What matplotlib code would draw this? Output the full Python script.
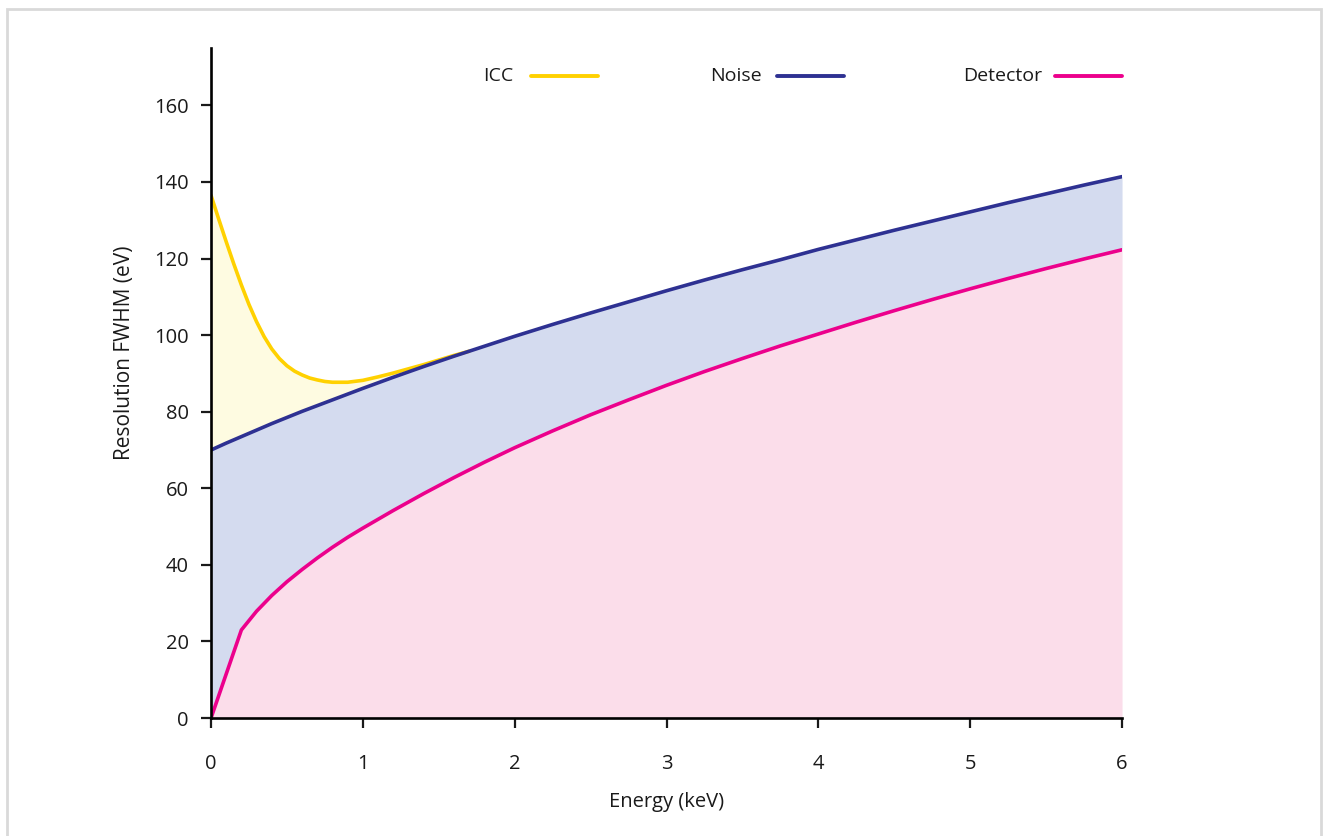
import matplotlib
matplotlib.use("Agg")
import matplotlib.pyplot as plt
import matplotlib.patches as patches
import numpy as np

plt.rcParams['font.family'] = ['Open Sans', 'DejaVu Sans']

# energy grid (keV) shared by noise and detector
energy = [0, 0.1, 0.2, 0.3, 0.4, 0.5, 0.6, 0.7, 0.8, 0.9, 1.0, 1.2, 1.4, 1.6,
          1.8, 2.0, 2.25, 2.5, 2.75, 3.0, 3.25, 3.5, 3.75, 4.0, 4.25, 4.5,
          4.75, 5.0, 5.25, 5.5, 5.75, 6.0]
noise = [70.0, 71.8, 73.5, 75.2, 76.9, 78.5, 80.1, 81.6, 83.1, 84.6, 86.1, 89.0,
         91.8, 94.5, 97.1, 99.7, 102.8, 105.8, 108.7, 111.6, 114.4, 117.1, 119.7,
         122.4, 124.9, 127.4, 129.8, 132.2, 134.6, 136.9, 139.2, 141.4]
detector = [0, 11.5, 23.0, 27.9, 32.0, 35.6, 38.8, 41.8, 44.6, 47.2, 49.6, 54.2,
            58.6, 62.8, 66.8, 70.6, 75.0, 79.2, 83.1, 86.9, 90.5, 93.9, 97.2,
            100.3, 103.4, 106.4, 109.3, 112.1, 114.8, 117.4, 119.9, 122.3]

# ICC curve only until it joins the noise curve
icc_energy = [0, 0.05, 0.1, 0.15, 0.2, 0.25, 0.3, 0.35, 0.4, 0.45, 0.5, 0.55, 0.6,
              0.65, 0.7, 0.75, 0.8, 0.9, 1.0, 1.1, 1.2, 1.3, 1.4, 1.5, 1.6, 1.7]
icc = [136.5, 130.4, 124.4, 118.6, 113.1, 108.0, 103.5, 99.6, 96.4, 93.9, 92.0,
       90.6, 89.6, 88.8, 88.3, 87.9, 87.7, 87.7, 88.2, 89.1, 90.1, 91.2, 92.3,
       93.5, 94.7, 95.8]

series_names = ['ICC', 'Noise', 'Detector']
line_colors = ['#FFD100', '#2E3192', '#EC008C']
fill_colors = ['#FEFBE1', '#D4DBEF', '#FBDDEA']

fig = plt.figure(figsize=(13.23, 8.36), dpi=100)
ax = fig.add_axes([0.1595, 0.1411, 0.6886, 0.8015])

noise_at_icc = np.interp(icc_energy, energy, noise)
ax.fill_between(energy, 0, detector, color=fill_colors[2], lw=0)
ax.fill_between(energy, detector, noise, color=fill_colors[1], lw=0)
ax.fill_between(icc_energy, noise_at_icc, icc, color=fill_colors[0], lw=0)

ax.plot(icc_energy, icc, color=line_colors[0], lw=2.6, solid_capstyle='round', zorder=3)
ax.plot(energy, noise, color=line_colors[1], lw=2.6, solid_capstyle='round', zorder=4)
ax.plot(energy, detector, color=line_colors[2], lw=2.6, solid_capstyle='round', zorder=4)

ax.set_xlim(0, 6)
ax.set_ylim(0, 175)
ax.set_xticks(range(0, 7))
ax.set_yticks(range(0, 161, 20))
for s in ['top', 'right']:
    ax.spines[s].set_visible(False)
for s in ['left', 'bottom']:
    ax.spines[s].set_linewidth(1.9)
    ax.spines[s].set_zorder(6)
ax.tick_params(axis='both', direction='out', length=7, width=1.6, labelsize=14.5,
               colors='#1a1a1a')
ax.tick_params(axis='x', pad=19)
ax.tick_params(axis='y', pad=9)
ax.set_xlabel('Energy (keV)', fontsize=14.5, color='#1a1a1a', labelpad=13)
ax.set_ylabel('Resolution FWHM (eV)', fontsize=15, color='#1a1a1a')
ax.yaxis.set_label_coords(-0.083, 0.545)

# legend row at the top
text_ends = [0.3315, 0.604, 0.912]
line_starts = [0.351, 0.621, 0.926]
for name, col, te, ls in zip(series_names, line_colors, text_ends, line_starts):
    ax.text(te, 0.958, name, transform=ax.transAxes, ha='right', va='center',
            fontsize=14, color='#1a1a1a')
    ax.plot([ls, ls + 0.074], [0.958, 0.958], transform=ax.transAxes, color=col,
            lw=2.8, solid_capstyle='round', clip_on=False)

# light grey frame around the figure
fig.patches.append(patches.Rectangle((0.0053, -0.02), 0.993, 1.009, transform=fig.transFigure,
                                     fill=False, edgecolor='#D9D9D9', lw=2))

fig.savefig('out.png', dpi=100)
